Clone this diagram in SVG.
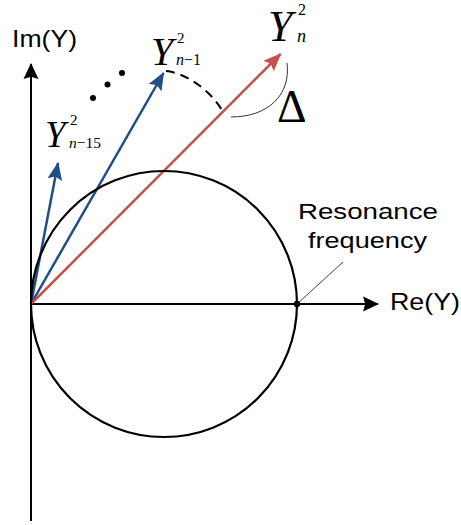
<svg xmlns="http://www.w3.org/2000/svg" width="461" height="525" viewBox="0 0 461 525">
<style>
.ax{stroke:#000;stroke-width:2;fill:none}
.blue{stroke:#1F4E89;stroke-width:2.5;fill:none}
.red{stroke:#C8504A;stroke-width:2.5;fill:none}
.thin{stroke:#333;stroke-width:1;fill:none}
.sans{font-family:"Liberation Sans",Arial,sans-serif;fill:#000}
.ser{font-family:"Liberation Serif","Times New Roman",serif;fill:#000}
.it{font-style:italic}
</style>
<defs>
<marker id="ak" markerUnits="userSpaceOnUse" markerWidth="16" markerHeight="16" viewBox="0 0 15 14" refX="14" refY="7" orient="auto"><path d="M0,0 L15,7 L0,14 L2,7 Z" fill="#000"/></marker>
<marker id="ab" markerUnits="userSpaceOnUse" markerWidth="18" markerHeight="16" viewBox="0 0 17 14" refX="16" refY="7" orient="auto"><path d="M0,0 L17,7 L0,14 L3,7 Z" fill="#1F4E89"/></marker>
<marker id="ar" markerUnits="userSpaceOnUse" markerWidth="18" markerHeight="16" viewBox="0 0 17 14" refX="16" refY="7" orient="auto"><path d="M0,0 L17,7 L0,14 L3,7 Z" fill="#C8504A"/></marker>
</defs>
<g id="connectors">
<line id="im-axis" class="ax" x1="31" y1="521" x2="31" y2="64" marker-end="url(#ak)"/>
<line id="re-axis" class="ax" x1="31" y1="304" x2="378" y2="304" marker-end="url(#ak)"/>
<line id="vec-n15" class="blue" x1="31" y1="304" x2="58" y2="163" marker-end="url(#ab)"/>
<line id="vec-n1" class="blue" x1="31" y1="304" x2="163.5" y2="73" marker-end="url(#ab)"/>
<line id="vec-n" class="red" x1="31" y1="304" x2="280.5" y2="54" marker-end="url(#ar)"/>
<path id="dashed-arc" d="M166,71 C182,72 210,88 223,112" stroke="#000" stroke-width="2" fill="none" stroke-dasharray="9,6"/>
<path id="delta-arc" class="thin" d="M287,63 C291,95 268,117 231,117"/>
<line id="leader" x1="297" y1="304" x2="343" y2="262" stroke="#444" stroke-width="1"/>
</g>
<g id="circle-node">
<circle cx="164" cy="304" r="133" stroke="#000" stroke-width="2.2" fill="none"/>
</g>
<g id="resonance-dot"><circle cx="297" cy="304" r="3.2" fill="#000"/></g>
<g id="dots">
<circle cx="93" cy="98" r="3" fill="#000"/>
<circle cx="107.5" cy="84.5" r="3" fill="#000"/>
<circle cx="122" cy="73" r="3" fill="#000"/>
</g>
<g id="label-im"><text class="sans" x="12" y="47" font-size="24" textLength="65" lengthAdjust="spacingAndGlyphs">Im(Y)</text></g>
<g id="label-re"><text class="sans" x="390" y="310" font-size="24" textLength="70" lengthAdjust="spacingAndGlyphs">Re(Y)</text></g>
<g id="label-resonance">
<text class="sans" x="298" y="219" font-size="22" textLength="140" lengthAdjust="spacingAndGlyphs">Resonance</text>
<text class="sans" x="308" y="248" font-size="22" textLength="119" lengthAdjust="spacingAndGlyphs">frequency</text>
</g>
<g id="label-yn">
<text class="ser it" x="268" y="41" font-size="44">Y</text>
<text class="ser" x="298" y="15" font-size="16">2</text>
<text class="ser it" x="297" y="42" font-size="18">n</text>
</g>
<g id="label-yn1">
<text class="ser it" x="151" y="65" font-size="40">Y</text>
<text class="ser" x="177" y="43" font-size="15">2</text>
<text class="ser" x="176" y="65" font-size="16"><tspan class="it">n</tspan>−1</text>
</g>
<g id="label-yn15">
<text class="ser it" x="45" y="147" font-size="37">Y</text>
<text class="ser" x="70" y="125" font-size="15">2</text>
<text class="ser" x="69" y="148" font-size="15.5"><tspan class="it">n</tspan>−15</text>
</g>
<g id="label-delta"><text class="ser" x="277" y="122" font-size="46">Δ</text></g>
</svg>
